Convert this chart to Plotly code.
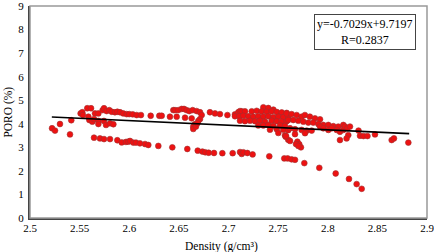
import plotly.graph_objects as go

# Upper (main) branch of samples
upper_density = [
    2.5222, 2.5252, 2.5302, 2.5416, 2.551, 2.5527, 2.5533, 2.5577, 2.5615,
    2.5588, 2.5598, 2.5628, 2.5645, 2.5689, 2.5689, 2.5745, 2.5766, 2.5806, 2.584,
    2.5655, 2.5689, 2.5732, 2.5746, 2.5772, 2.5799, 2.5823, 2.5856, 2.588, 2.5907,
    2.594, 2.5974, 2.6, 2.6035, 2.6075, 2.6118, 2.6216, 2.6303, 2.6327, 2.641,
    2.6444, 2.6461, 2.6478, 2.6494, 2.6528, 2.6552, 2.6562, 2.6578, 2.6605, 2.6629,
    2.6639, 2.6679, 2.6713, 2.673, 2.6713, 2.6696, 2.6662, 2.6645, 2.6645, 2.6672,
    2.6686, 2.6813, 2.6864, 2.6914, 2.6989, 2.7065, 2.7099, 2.7116,
    2.7351, 2.7401, 2.7452,
    2.7133, 2.7166, 2.7234, 2.7284, 2.7334, 2.7385, 2.7435, 2.7486, 2.7536, 2.7586,
    2.7065, 2.7109, 2.7149, 2.72, 2.725, 2.73, 2.7351, 2.7401, 2.7452, 2.7502, 2.7552, 2.7602,
    2.7116, 2.7166, 2.7217, 2.7267, 2.7317, 2.7368, 2.7435, 2.7486, 2.7536, 2.7586,
    2.73, 2.7351, 2.7401, 2.7452, 2.7519, 2.7569,
    2.7418, 2.7486, 2.7552, 2.7602, 2.7502, 2.7569, 2.7602,
    2.7586, 2.7636, 2.7687, 2.7737, 2.777, 2.782, 2.7871, 2.7922,
    2.7602, 2.7653, 2.7703, 2.7754, 2.7804, 2.7854, 2.7905, 2.7955, 2.8006, 2.8056,
    2.8106, 2.8157,
    2.762, 2.767, 2.7737, 2.7788, 2.7838,
    2.7576, 2.762, 2.767, 2.7694, 2.7713, 2.773, 2.7771, 2.758, 2.768, 2.7704,
    2.7922, 2.7955, 2.8006, 2.804, 2.809, 2.8123, 2.8157, 2.8174, 2.8197, 2.8224,
    2.8207, 2.819, 2.8123, 2.831, 2.8325, 2.836, 2.84, 2.8476, 2.8644, 2.8667, 2.8812,
]
upper_poro = [
    3.81, 3.71, 3.99, 4.15, 4.44, 4.49, 4.37, 4.66, 4.66,
    4.30, 4.16, 4.09, 4.20, 4.12, 3.99, 4.12, 3.95, 4.02, 3.98,
    4.44, 4.44, 4.58, 4.66, 4.54, 4.58, 4.51, 4.49, 4.51, 4.49,
    4.44, 4.41, 4.41, 4.40, 4.37, 4.37, 4.34, 4.34, 4.34, 4.30,
    4.58, 4.58, 4.30, 4.58, 4.63, 4.63, 4.26, 4.58, 4.54, 4.23,
    4.58, 4.54, 4.49, 4.37, 4.20, 4.12, 3.98, 3.88, 3.78, 3.88,
    4.02, 4.49, 4.44, 4.41, 4.37, 4.40, 4.49, 4.54,
    4.70, 4.67, 4.60,
    4.53, 4.53, 4.53, 4.55, 4.53, 4.51, 4.53, 4.50, 4.48, 4.46,
    4.32, 4.32, 4.34, 4.32, 4.30, 4.32, 4.30, 4.32, 4.28, 4.30, 4.28, 4.30,
    4.13, 4.11, 4.13, 4.11, 4.13, 4.09, 4.13, 4.11, 4.09, 4.11,
    3.93, 3.93, 3.95, 3.91, 3.93, 3.91,
    3.75, 3.77, 3.75, 3.73, 3.61, 3.51, 3.32,
    4.44, 4.41, 4.37, 4.30, 4.37, 4.30, 4.23, 4.19,
    4.16, 4.16, 4.13, 4.09, 4.05, 4.05, 3.99, 3.95, 3.95, 3.90,
    3.88, 3.95,
    3.81, 3.77, 3.74, 3.71, 3.71,
    3.45, 3.27, 3.56, 3.24, 3.13, 3.00, 3.60, 3.48, 3.14, 3.06,
    3.88, 3.81, 3.74, 3.81, 3.74, 3.66, 3.74, 3.88, 3.81, 3.88,
    3.52, 3.38, 3.31, 3.71, 3.49, 3.48, 3.48, 3.55, 3.31, 3.38, 3.20,
]

# Lower branch of samples
lower_density = [
    2.5403, 2.5645, 2.5705, 2.5746, 2.5806, 2.588, 2.5924, 2.5967, 2.599, 2.6008,
    2.6041, 2.6068, 2.6108, 2.6159, 2.6192, 2.6293, 2.6434, 2.6585, 2.669, 2.6737,
    2.6766, 2.68, 2.6854, 2.6938, 2.7042, 2.7116, 2.7133, 2.715, 2.719, 2.7243,
    2.7411, 2.7562, 2.7596, 2.7636, 2.767, 2.7764, 2.7915, 2.808, 2.8214, 2.8291,
    2.8342,
]
lower_poro = [
    3.55, 3.41, 3.38, 3.35, 3.35, 3.30, 3.21, 3.23, 3.24, 3.27,
    3.20, 3.20, 3.17, 3.14, 3.10, 3.06, 3.00, 2.93, 2.86, 2.82,
    2.79, 2.77, 2.76, 2.75, 2.75, 2.80, 2.72, 2.79, 2.76, 2.70,
    2.62, 2.53, 2.53, 2.49, 2.47, 2.33, 2.13, 1.89, 1.66, 1.44,
    1.24,
]

# Trend line endpoints as drawn
trend_density = [2.522, 2.882]
trend_poro = [4.29, 3.58]

x_ticks = [2.5, 2.55, 2.6, 2.65, 2.7, 2.75, 2.8, 2.85, 2.9]
x_tick_text = ["2.5", "2.55", "2.6", "2.65", "2.7", "2.75", "2.8", "2.85", "2.9"]
y_ticks = [0, 1, 2, 3, 4, 5, 6, 7, 8, 9]

x_title = "Density (g/cm³)"
y_title = "PORO (%)"
equation_text = "y=-0.7029x+9.7197<br>R=0.2837"

FONT = "Liberation Serif, Times New Roman, serif"

fig = go.Figure()
fig.add_trace(go.Scatter(
    x=upper_density + lower_density,
    y=upper_poro + lower_poro,
    mode="markers",
    marker=dict(size=5.8, color="#ee1111", line=dict(width=0.6, color="#a03030")),
    showlegend=False,
))
fig.add_trace(go.Scatter(
    x=trend_density, y=trend_poro, mode="lines",
    line=dict(color="black", width=1.6), showlegend=False,
))

fig.update_layout(
    width=434, height=252,
    margin=dict(l=30, r=7, t=6, b=34),
    paper_bgcolor="white", plot_bgcolor="white",
    font=dict(family=FONT, size=11, color="black"),
    xaxis=dict(
        range=[2.5, 2.9], tickvals=x_ticks, ticktext=x_tick_text,
        showgrid=False, zeroline=False, showline=True, linecolor="#444", linewidth=2,
        ticks="", tickfont=dict(size=11), automargin=False, ticklabeloverflow="allow",
        ticklabelstandoff=-1,
    ),
    yaxis=dict(
        range=[0, 9], tickvals=y_ticks,
        showgrid=False, zeroline=False, showline=True, linecolor="#444", linewidth=2,
        ticks="", tickfont=dict(size=11), automargin=False, ticklabeloverflow="allow",
        ticklabelstandoff=2,
    ),
    shapes=[dict(type="rect", xref="paper", yref="paper", x0=0, x1=1, y0=0, y1=1,
                 line=dict(color="#999", width=1.5))],
    annotations=[
        dict(
            text=equation_text, xref="paper", yref="paper", x=0.972, y=0.962,
            xanchor="right", yanchor="top", showarrow=False, align="center",
            bordercolor="#444", borderwidth=1, borderpad=2, bgcolor="white",
            font=dict(family=FONT, size=12, color="black"),
        ),
        dict(
            text=x_title, xref="paper", yref="paper", x=0.483, y=-0.095,
            xanchor="center", yanchor="top", showarrow=False,
            font=dict(family=FONT, size=11.5, color="black"),
        ),
        dict(
            text=y_title, xref="paper", yref="paper", x=-0.035, y=0.5,
            xanchor="right", yanchor="middle", showarrow=False, textangle=-90,
            font=dict(family=FONT, size=11.5, color="black"),
        ),
    ],
)

fig.write_html(
    "out.html",
    config={"displayModeBar": False},
    post_script="document.body.style.margin='0';document.body.style.overflow='hidden';",
)
